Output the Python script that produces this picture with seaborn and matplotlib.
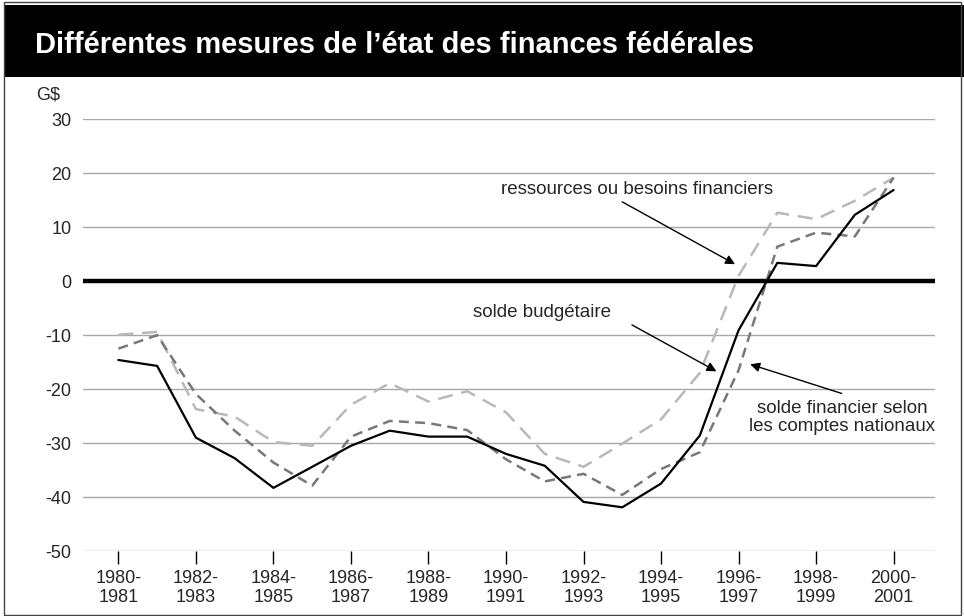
import matplotlib
matplotlib.use("Agg")
import matplotlib.pyplot as plt
import seaborn as sns
from matplotlib.patches import Rectangle

# fiscal years 1980-1981 .. 2000-2001
years = ["%d-\n%d" % (y, y + 1) for y in range(1980, 2001)]
idx = list(range(len(years)))

# G$ values
solde_budgetaire = [-14.6, -15.7, -29.0, -32.8, -38.3, -34.4, -30.5, -27.7, -28.8, -28.8,
                    -32.0, -34.2, -40.9, -41.9, -37.5, -28.6, -9.1, 3.4, 2.8, 12.3, 16.9]
solde_comptes_nationaux = [-12.5, -10.0, -20.9, -27.7, -33.6, -37.9, -28.8, -25.9, -26.3, -27.6,
                           -33.0, -37.1, -35.7, -39.6, -34.8, -31.7, -16.5, 6.4, 9.0, 8.3, 19.2]
ressources_besoins = [-9.9, -9.4, -23.7, -25.1, -29.8, -30.5, -22.9, -18.9, -22.3, -20.4,
                      -24.3, -32.0, -34.4, -30.1, -25.6, -17.0, 1.0, 12.7, 11.5, 14.9, 19.2]

sns.set_theme(style="white")
plt.rcParams["font.family"] = ["Liberation Sans", "DejaVu Sans"]
plt.rcParams["axes.unicode_minus"] = False

fig = plt.figure(figsize=(9.64, 6.16), dpi=100)
ax = fig.add_axes([0.0858, 0.1055, 0.8838, 0.7008])

sns.lineplot(x=idx, y=ressources_besoins, ax=ax, color="#b9b9b9", linewidth=1.8,
             linestyle=(0, (6, 3.5)))
sns.lineplot(x=idx, y=solde_comptes_nationaux, ax=ax, color="#787878", linewidth=1.8,
             linestyle=(0, (4, 2.5)))
sns.lineplot(x=idx, y=solde_budgetaire, ax=ax, color="black", linewidth=1.6)

ax.axhline(0, color="black", linewidth=3.2, zorder=1)

ax.set_xlim(-0.92, 21.06)
ax.set_ylim(-50, 30)
ax.set_yticks(range(-50, 31, 10))
ax.set_xticks(idx[::2])
ax.set_xticklabels(years[::2], fontsize=13, linespacing=1.15)
ax.tick_params(axis="y", length=0, labelsize=13, pad=8)
ax.tick_params(axis="x", direction="out", length=9, width=1, color="black", pad=5,
               bottom=True)
ax.yaxis.grid(True, color="#a8a8a8", linewidth=1)
ax.set_axisbelow(True)
for s in ax.spines.values():
    s.set_visible(False)
ax.set_xlabel("")
ax.set_ylabel("")

arrow = dict(arrowstyle="-|>", color="black", lw=1, mutation_scale=14, shrinkA=0, shrinkB=0)
ax.text(13.38, 17.0, "ressources ou besoins financiers", ha="center", va="center", fontsize=13.5)
ax.annotate("", xy=(15.91, 3.15), xytext=(13.0, 14.7), arrowprops=arrow)
ax.text(10.94, -5.8, "solde budgétaire", ha="center", va="center", fontsize=13.5)
ax.annotate("", xy=(15.43, -16.7), xytext=(13.25, -8.1), arrowprops=arrow)
ax.text(18.68, -25.3, "solde financier selon\nles comptes nationaux", ha="center",
        va="center", fontsize=13.5, linespacing=1.1)
ax.annotate("", xy=(16.30, -15.4), xytext=(18.66, -20.8), arrowprops=arrow)

# title bar and frame
fig.patches.append(Rectangle((0.005, 0.875), 0.995, 0.117, transform=fig.transFigure,
                             facecolor="black", edgecolor="none", zorder=0))
fig.patches.append(Rectangle((0.004, 0.002), 0.993, 0.994, transform=fig.transFigure,
                             facecolor="none", edgecolor="#444444", linewidth=1))
fig.text(0.036, 0.927, "Différentes mesures de l\u2019état des finances fédérales",
         color="white", fontsize=21, fontweight="bold", va="center", ha="left")
fig.text(0.037, 0.845, "G$", fontsize=13, va="center", ha="left")

fig.savefig("out.png", dpi=100)
